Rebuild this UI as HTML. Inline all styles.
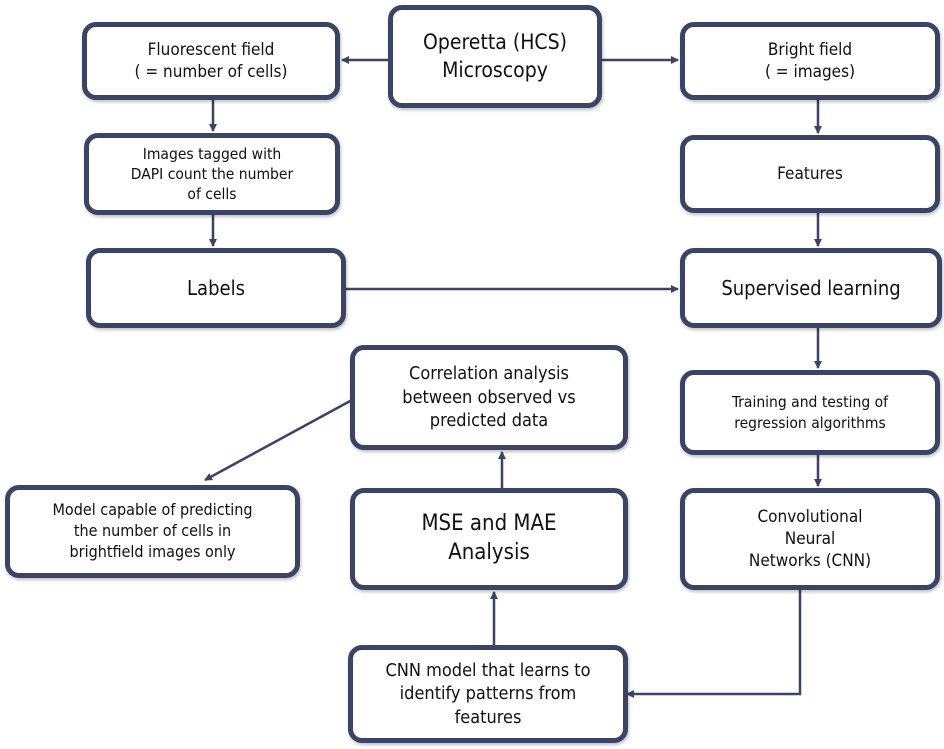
<!DOCTYPE html>
<html><head><meta charset="utf-8"><style>
body{margin:0;width:944px;height:749px;background:#fff;position:relative;overflow:hidden;font-family:"DejaVu Sans Condensed","DejaVu Sans","Liberation Sans",sans-serif;color:#111}
.b{position:absolute;box-sizing:border-box;border:5px solid #3a4466;border-radius:14px;background:#fff;display:flex;align-items:center;justify-content:center;text-align:center;line-height:1.3;box-shadow:1px 2px 3px rgba(0,0,0,.25)}
svg{position:absolute;left:0;top:0}
</style></head><body>
<svg width="944" height="749">
<defs><marker id="a" markerWidth="8" markerHeight="8" refX="7" refY="4" orient="auto" markerUnits="userSpaceOnUse"><path d="M0,0L8,4L0,8z" fill="#3a4466"/></marker></defs>
<g stroke="#3a4466" stroke-width="2.5" fill="none" marker-end="url(#a)">
<line x1="388" y1="60" x2="342" y2="60"/>
<line x1="602" y1="60" x2="678" y2="60"/>
<line x1="213" y1="100" x2="213" y2="131"/>
<line x1="818" y1="100" x2="818" y2="133"/>
<line x1="213" y1="215" x2="213" y2="246"/>
<line x1="818" y1="213" x2="818" y2="246"/>
<line x1="346" y1="289" x2="678" y2="289"/>
<line x1="818" y1="328" x2="818" y2="368"/>
<line x1="818" y1="455" x2="818" y2="486"/>
<line x1="502" y1="488" x2="502" y2="452"/>
<line x1="494" y1="645" x2="494" y2="592"/>
<line x1="352" y1="400" x2="205" y2="480"/>
<polyline points="800,590 800,694 627,694"/>
</g>
</svg>
<div class="b" style="left:82px;top:22px;width:258px;height:78px;font-size:17px">Fluorescent field<br>( = number of cells)</div>
<div class="b" style="left:388px;top:5px;width:214px;height:103px;font-size:21px">Operetta (HCS)<br>Microscopy</div>
<div class="b" style="left:680px;top:22px;width:260px;height:78px;font-size:17px">Bright field<br>( = images)</div>
<div class="b" style="left:84px;top:133px;width:256px;height:82px;font-size:15.5px">Images tagged with<br>DAPI count the number<br>of cells</div>
<div class="b" style="left:680px;top:135px;width:260px;height:78px;font-size:17px">Features</div>
<div class="b" style="left:86px;top:248px;width:260px;height:80px;font-size:20px">Labels</div>
<div class="b" style="left:680px;top:248px;width:262px;height:80px;font-size:20px">Supervised learning</div>
<div class="b" style="left:350px;top:345px;width:278px;height:105px;font-size:18px">Correlation analysis<br>between observed vs<br>predicted data</div>
<div class="b" style="left:680px;top:370px;width:260px;height:85px;font-size:15.5px">Training and testing of<br>regression algorithms</div>
<div class="b" style="left:5px;top:485px;width:295px;height:93px;font-size:16px">Model capable of predicting<br>the number of cells in<br>brightfield images only</div>
<div class="b" style="left:350px;top:488px;width:278px;height:102px;font-size:22px">MSE and MAE<br>Analysis</div>
<div class="b" style="left:680px;top:488px;width:260px;height:102px;font-size:17px">Convolutional<br>Neural<br>Networks (CNN)</div>
<div class="b" style="left:348px;top:645px;width:280px;height:98px;font-size:18px">CNN model that learns to<br>identify patterns from<br>features</div>
</body></html>
